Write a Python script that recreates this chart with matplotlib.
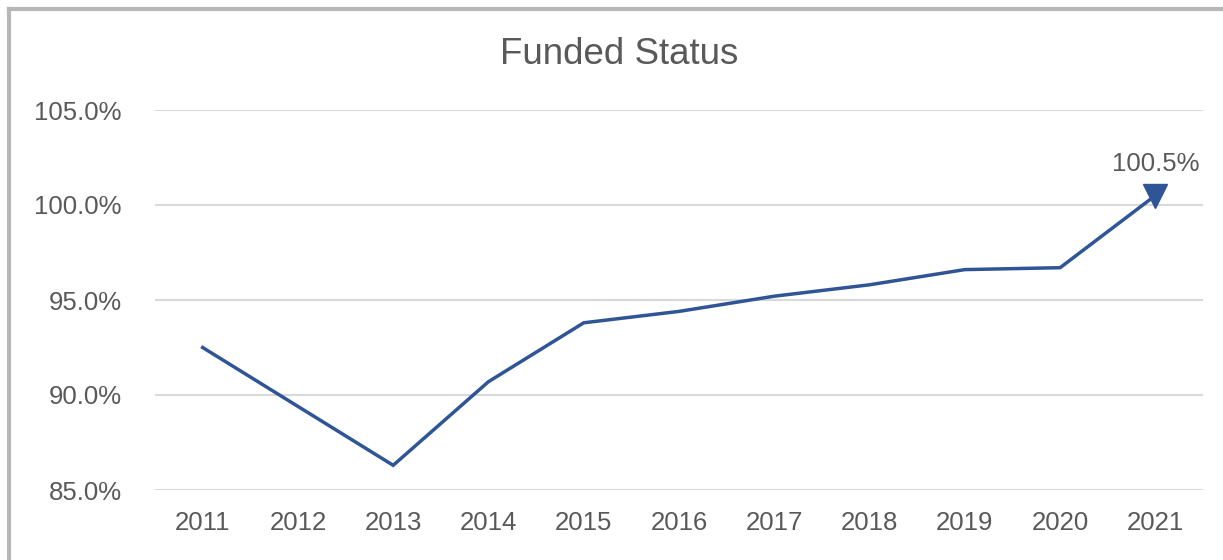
import matplotlib
matplotlib.use("Agg")
import matplotlib.pyplot as plt
from matplotlib.lines import Line2D

years = ['2011', '2012', '2013', '2014', '2015', '2016', '2017', '2018', '2019', '2020', '2021']
funded = [92.5, 89.4, 86.3, 90.7, 93.8, 94.4, 95.2, 95.8, 96.6, 96.7, 100.5]
yticks = [85, 90, 95, 100, 105]

line_color = '#2F5597'
text_color = '#595959'

plt.rcParams['font.family'] = ['Liberation Sans', 'DejaVu Sans']

W, H = 1223, 560
fig = plt.figure(figsize=(W / 100, H / 100), dpi=100)
ax = fig.add_axes([155 / W, 1 - 490 / H, (1203 - 155) / W, (490 - 110) / H])

x = range(len(years))
ax.plot(x, funded, color=line_color, lw=2.5, solid_joinstyle='miter')
ax.plot([x[-1]], [funded[-1]], marker='v', color=line_color, ms=17, lw=0)
ax.annotate('%.1f%%' % funded[-1], (x[-1], funded[-1]), xytext=(0, 23),
            textcoords='offset points', ha='center', va='center',
            fontsize=18.5, color=text_color)

ax.set_xlim(-0.5, len(years) - 0.5)
ax.set_ylim(85, 105)
ax.set_xticks(list(x))
ax.set_xticklabels(years)
ax.set_yticks(yticks)
ax.set_yticklabels(['%.1f%%' % v for v in yticks])
ax.tick_params(axis='both', length=0, labelsize=18.5, labelcolor=text_color)
ax.tick_params(axis='y', pad=24)
ax.tick_params(axis='x', pad=15)
ax.grid(axis='y', color='#d9d9d9', lw=1.5)
ax.set_axisbelow(True)
for s in ax.spines.values():
    s.set_visible(False)

fig.text(619 / W, 1 - 54 / H, 'Funded Status', ha='center', va='center',
         fontsize=26.5, color=text_color)

# chart frame (only top and left edges are visible in the crop)
fig.add_artist(Line2D([9 / W, 9 / W], [0, 1 - 9 / H], color='#b7b7b7', lw=3,
                      transform=fig.transFigure))
fig.add_artist(Line2D([9 / W, 1], [1 - 9 / H, 1 - 9 / H], color='#b7b7b7', lw=3,
                      transform=fig.transFigure))

fig.savefig('out.png', dpi=100)
